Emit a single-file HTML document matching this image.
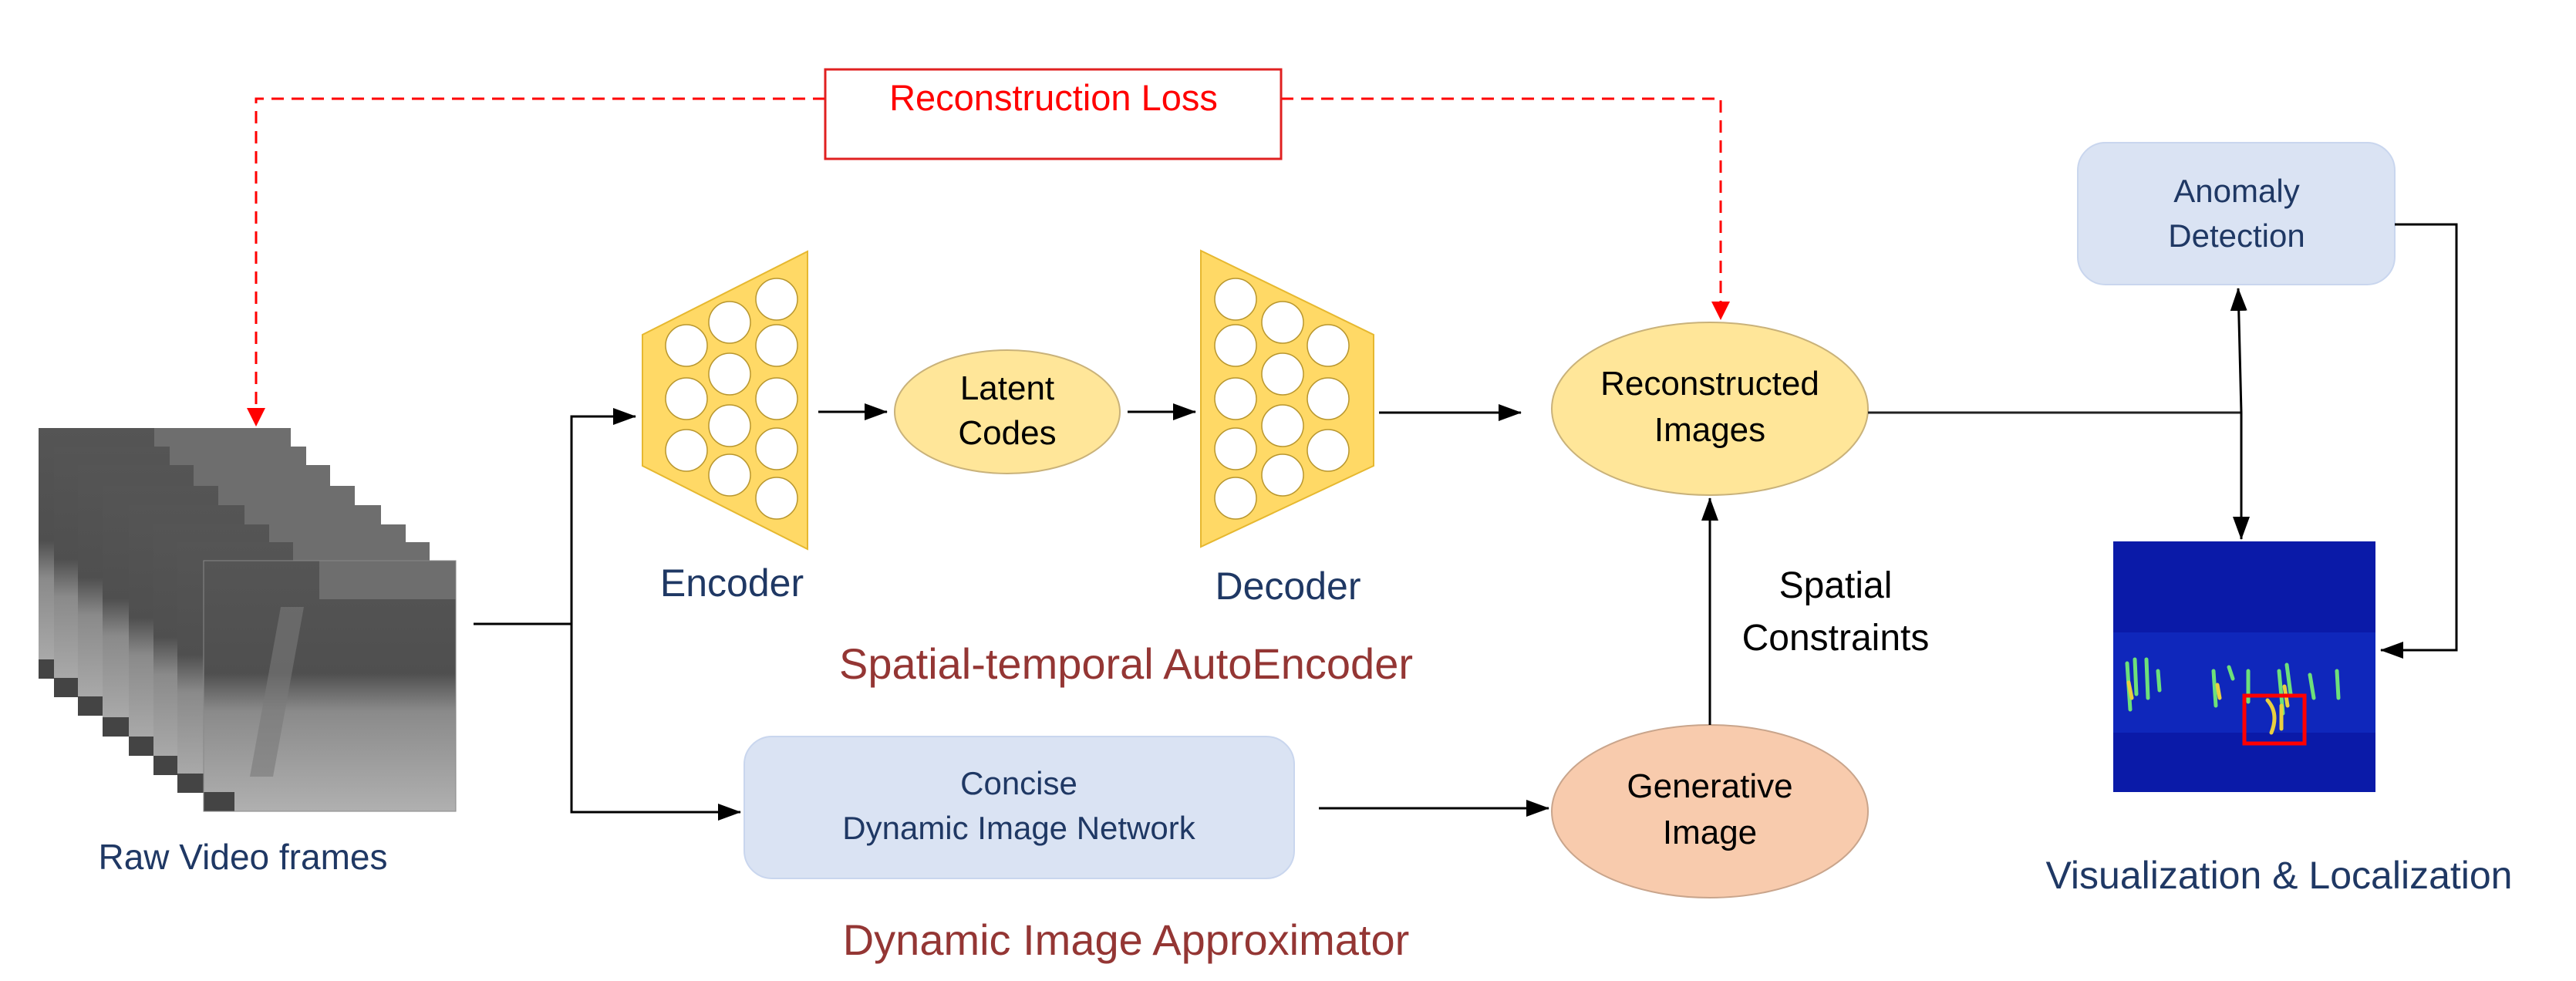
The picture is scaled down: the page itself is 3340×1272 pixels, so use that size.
<!DOCTYPE html>
<html><head><meta charset="utf-8"><style>
html,body{margin:0;padding:0;background:#fff}
svg{display:block}
text{font-family:"Liberation Sans",sans-serif}
</style></head><body>
<svg width="3340" height="1272" viewBox="0 0 3340 1272" xmlns="http://www.w3.org/2000/svg">
<defs>
<marker id="ab" markerWidth="30" markerHeight="22" refX="29" refY="11" orient="auto" markerUnits="userSpaceOnUse" viewBox="0 0 30 22"><path d="M0,0 L30,11 L0,22 z" fill="#000"/></marker>
<marker id="ar" markerWidth="24" markerHeight="30" refX="23" refY="12" orient="auto" markerUnits="userSpaceOnUse" viewBox="0 0 24 24"><path d="M0,0 L24,12 L0,24 z" fill="#f00"/></marker>
<linearGradient id="fr" x1="0" y1="0" x2="0" y2="1">
<stop offset="0" stop-color="#555"/><stop offset="0.45" stop-color="#4f4f4f"/><stop offset="0.6" stop-color="#8a8a8a"/><stop offset="1" stop-color="#b0b0b0"/></linearGradient>
<g id="frame">
<rect x="0" y="0" width="327" height="325" fill="url(#fr)"/>
<rect x="150" y="0" width="177" height="50" fill="#6e6e6e"/>
<polygon points="100,60 130,60 90,280 60,280" fill="#7a7a7a" opacity="0.6"/>
<rect x="0" y="300" width="40" height="25" fill="#444"/>
</g>
</defs>

<!-- red dashed loss -->
<polyline points="1070,128 332,128 332,552" fill="none" stroke="#f00" stroke-width="3" stroke-dasharray="16,10" marker-end="url(#ar)"/>
<polyline points="1661,128 2231,128 2231,414" fill="none" stroke="#f00" stroke-width="3" stroke-dasharray="16,10" marker-end="url(#ar)"/>
<rect x="1070" y="90" width="591" height="116" fill="#fff" stroke="#e02020" stroke-width="3"/>
<text x="1366" y="143" font-size="47" fill="#f00" text-anchor="middle">Reconstruction Loss</text>

<!-- frames -->
<g>
<use href="#frame" x="50" y="555"/>
<use href="#frame" x="70" y="579"/>
<use href="#frame" x="101" y="603"/>
<use href="#frame" x="133" y="630"/>
<use href="#frame" x="167" y="655"/>
<use href="#frame" x="199" y="680"/>
<use href="#frame" x="230" y="703"/>
<use href="#frame" x="264" y="727"/>
<rect x="264" y="727" width="327" height="325" fill="none" stroke="#888" stroke-width="1"/>
</g>
<text x="315" y="1127" font-size="46" fill="#1F3864" text-anchor="middle">Raw Video frames</text>

<!-- input connectors -->
<line x1="614" y1="809" x2="741" y2="809" stroke="#000" stroke-width="3"/>
<polyline points="741,1053 741,540 824,540" fill="none" stroke="#000" stroke-width="3" marker-end="url(#ab)"/>
<polyline points="741,809 741,1053 960,1053" fill="none" stroke="#000" stroke-width="3" marker-end="url(#ab)"/>

<!-- encoder -->
<polygon points="833,434 1047,326 1047,712 833,604" fill="#FFD966" stroke="#E6B830" stroke-width="2"/>
<g fill="#fff" stroke="#B8962E" stroke-width="1.5">
<circle cx="890" cy="448" r="27"/><circle cx="890" cy="517" r="27"/><circle cx="890" cy="584" r="27"/>
<circle cx="946" cy="418" r="27"/><circle cx="946" cy="485" r="27"/><circle cx="946" cy="552" r="27"/><circle cx="946" cy="616" r="27"/>
<circle cx="1007" cy="388" r="27"/><circle cx="1007" cy="448" r="27"/><circle cx="1007" cy="517" r="27"/><circle cx="1007" cy="582" r="27"/><circle cx="1007" cy="646" r="27"/>
</g>
<text x="949" y="773" font-size="50" fill="#1F3864" text-anchor="middle">Encoder</text>

<line x1="1061" y1="534" x2="1150" y2="534" stroke="#000" stroke-width="3" marker-end="url(#ab)"/>
<ellipse cx="1306" cy="534" rx="146" ry="80" fill="#FFE699" stroke="#C9B27A" stroke-width="2"/>
<text x="1306" y="518" font-size="44" fill="#000" text-anchor="middle">Latent</text>
<text x="1306" y="576" font-size="44" fill="#000" text-anchor="middle">Codes</text>
<line x1="1462" y1="534" x2="1550" y2="534" stroke="#000" stroke-width="3" marker-end="url(#ab)"/>

<!-- decoder -->
<polygon points="1557,325 1781,434 1781,604 1557,709" fill="#FFD966" stroke="#E6B830" stroke-width="2"/>
<g fill="#fff" stroke="#B8962E" stroke-width="1.5">
<circle cx="1602" cy="388" r="27"/><circle cx="1602" cy="448" r="27"/><circle cx="1602" cy="517" r="27"/><circle cx="1602" cy="582" r="27"/><circle cx="1602" cy="646" r="27"/>
<circle cx="1663" cy="418" r="27"/><circle cx="1663" cy="485" r="27"/><circle cx="1663" cy="552" r="27"/><circle cx="1663" cy="616" r="27"/>
<circle cx="1722" cy="448" r="27"/><circle cx="1722" cy="517" r="27"/><circle cx="1722" cy="584" r="27"/>
</g>
<text x="1670" y="777" font-size="50" fill="#1F3864" text-anchor="middle">Decoder</text>
<line x1="1788" y1="535" x2="1972" y2="535" stroke="#000" stroke-width="3" marker-end="url(#ab)"/>

<text x="1460" y="880" font-size="56" fill="#943634" text-anchor="middle">Spatial-temporal AutoEncoder</text>

<!-- reconstructed -->
<ellipse cx="2217" cy="530" rx="205" ry="112" fill="#FFE699" stroke="#C9B27A" stroke-width="2"/>
<text x="2217" y="512" font-size="44" fill="#000" text-anchor="middle">Reconstructed</text>
<text x="2217" y="572" font-size="44" fill="#000" text-anchor="middle">Images</text>

<!-- generative -->
<ellipse cx="2217" cy="1052" rx="205" ry="112" fill="#F8CBAD" stroke="#C9A58C" stroke-width="2"/>
<text x="2217" y="1034" font-size="44" fill="#000" text-anchor="middle">Generative</text>
<text x="2217" y="1094" font-size="44" fill="#000" text-anchor="middle">Image</text>
<line x1="2217" y1="940" x2="2217" y2="646" stroke="#000" stroke-width="3" marker-end="url(#ab)"/>
<text x="2380" y="775" font-size="48" fill="#000" text-anchor="middle">Spatial</text>
<text x="2380" y="843" font-size="48" fill="#000" text-anchor="middle">Constraints</text>

<!-- concise box -->
<rect x="965" y="955" width="713" height="184" rx="36" fill="#DAE3F3" stroke="#C9D6EE" stroke-width="2"/>
<text x="1321" y="1030" font-size="42" fill="#1F3864" text-anchor="middle">Concise</text>
<text x="1321" y="1088" font-size="42" fill="#1F3864" text-anchor="middle">Dynamic Image Network</text>
<line x1="1710" y1="1048" x2="2008" y2="1048" stroke="#000" stroke-width="3" marker-end="url(#ab)"/>
<text x="1460" y="1238" font-size="56" fill="#943634" text-anchor="middle">Dynamic Image Approximator</text>

<!-- anomaly -->
<rect x="2694" y="185" width="411" height="184" rx="36" fill="#DAE3F3" stroke="#C9D6EE" stroke-width="2"/>
<text x="2900" y="262" font-size="42" fill="#1F3864" text-anchor="middle">Anomaly</text>
<text x="2900" y="320" font-size="42" fill="#1F3864" text-anchor="middle">Detection</text>
<line x1="2422" y1="535" x2="2906" y2="535" stroke="#222" stroke-width="3"/>
<line x1="2906" y1="535" x2="2902" y2="374" stroke="#000" stroke-width="3" marker-end="url(#ab)"/>
<line x1="2906" y1="535" x2="2906" y2="699" stroke="#000" stroke-width="3" marker-end="url(#ab)"/>
<polyline points="3105,291 3185,291 3185,843 3087,843" fill="none" stroke="#000" stroke-width="3" marker-end="url(#ab)"/>

<!-- heatmap -->
<rect x="2740" y="702" width="340" height="325" fill="#0a1aa8"/>
<rect x="2740" y="820" width="340" height="130" fill="#1230c8" opacity="0.6"/>
<g stroke="#6de07a" stroke-width="5" fill="none" stroke-linecap="round">
<path d="M2758,860 L2762,920 M2768,855 L2770,900 M2783,855 L2785,905 M2798,870 L2800,895"/>
<path d="M2870,870 L2873,915 M2890,865 L2895,880 M2915,870 L2915,910 M2955,870 L2960,925 M2965,862 L2970,900 M2995,875 L3000,905 M3030,870 L3032,905"/>
</g>
<g stroke="#e8d040" stroke-width="5" fill="none" stroke-linecap="round">
<path d="M2940,908 Q2955,925 2945,950 M2958,915 L2958,945 M2760,885 L2764,905 M2875,888 L2878,905 M2962,890 L2966,915"/>
</g>
<rect x="2910" y="902" width="78" height="62" fill="none" stroke="#f00" stroke-width="5"/>
<text x="2955" y="1152" font-size="50" fill="#1F3864" text-anchor="middle">Visualization &amp; Localization</text>
</svg>
</body></html>
